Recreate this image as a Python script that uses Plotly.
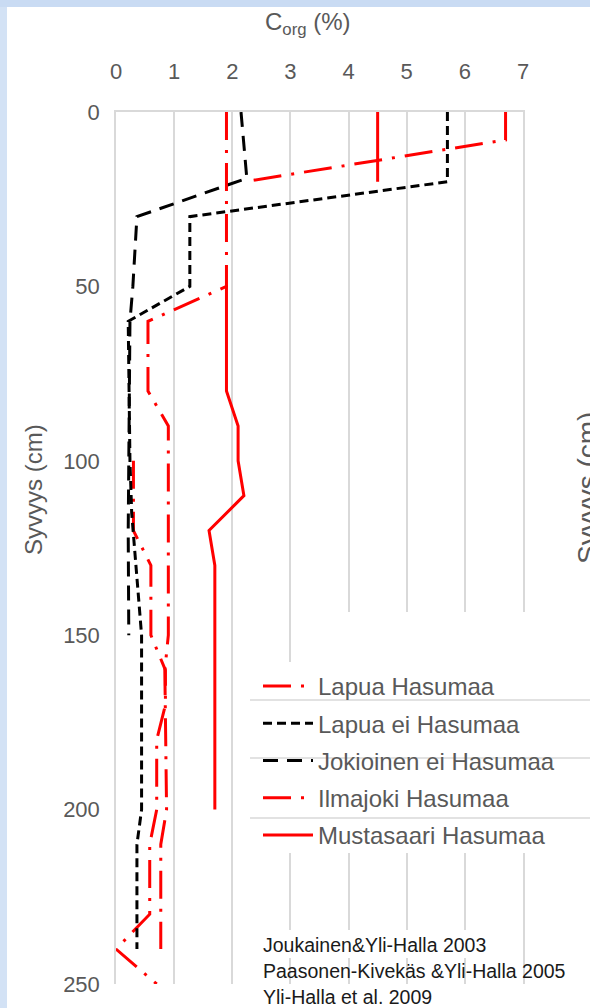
import plotly.graph_objects as go

# ---------------- data ----------------
lapua_has_c = [6.7, 6.7, 2.2, None, 0.3, 0.3, 0.6, 0.6, 0.85, 0.85, 0.7, 0.7, 0.58, 0.58, 0.0, 0.7]
lapua_has_d = [0, 8, 20, None, 100, 120, 130, 150, 160, 170, 180, 200, 210, 230, 240, 250]

lapua_ei_c = [5.7, 5.7, 1.27, 1.27, 0.21, 0.24, 0.27, 0.44, 0.44, 0.36, 0.36]
lapua_ei_d = [0, 20, 30, 50, 60, 100, 115, 150, 200, 210, 240]

jokioinen_c = [2.15, 2.25, 0.36, 0.29, 0.24, 0.21, 0.22]
jokioinen_d = [0, 19, 30, 50, 60, 120, 150]

ilmajoki_c = [1.9, 1.9, 0.55, 0.55, 0.9, 0.9, 0.84, 0.87, 0.77, 0.77]
ilmajoki_d = [0, 50, 60, 80, 90, 150, 160, 200, 210, 240]

mustasaari_c = [4.5, 4.5, None, 1.9, 1.9, 2.1, 2.1, 2.2, 1.6, 1.7, 1.7]
mustasaari_d = [0, 20, None, 50, 80, 90, 100, 110, 120, 130, 200]

x_ticks = [0, 1, 2, 3, 4, 5, 6, 7]
y_ticks = [0, 50, 100, 150, 200, 250]
sources = ["Joukainen&Yli-Halla 2003", "Paasonen-Kivekäs &Yli-Halla 2005", "Yli-Halla et al. 2009"]

# ---------------- layout geometry ----------------
W, H = 590, 1008
L, R, T, B = 116, 67, 112, 24
PW, PH = W - L - R, H - T - B


def fx(xp):
    return (xp - L) / PW


def fy(yp):
    return (H - B - yp) / PH


GREY_TXT = "#595959"
GRID = "#d9d9d9"
FONT = "Liberation Sans, Arial, sans-serif"

fig = go.Figure()

traces = [
    ("Lapua Hasumaa", lapua_has_c, lapua_has_d, "#ff0000", "28px,10px,3px,10px"),
    ("Lapua ei Hasumaa", lapua_ei_c, lapua_ei_d, "#000000", "9px,5px"),
    ("Jokioinen ei Hasumaa", jokioinen_c, jokioinen_d, "#000000", "15px,9px"),
    ("Ilmajoki Hasumaa", ilmajoki_c, ilmajoki_d, "#ff0000", "28px,10px,3px,10px"),
    ("Mustasaari Hasumaa", mustasaari_c, mustasaari_d, "#ff0000", "solid"),
]
for i, (name, xs, ys, col, dash) in enumerate(traces):
    fig.add_trace(go.Scatter(
        x=xs, y=ys, name=name, mode="lines", connectgaps=False,
        line=dict(color=col, width=3, dash=dash),
        legendgroup=f"g{i}",
    ))

shapes = []
# slide background strips
shapes.append(dict(type="rect", xref="paper", yref="paper", layer="above",
                   x0=fx(0), x1=fx(7), y0=fy(H), y1=fy(0),
                   fillcolor="#d3e2f5", line=dict(width=0)))
shapes.append(dict(type="rect", xref="paper", yref="paper", layer="above",
                   x0=fx(0), x1=fx(W), y0=fy(7), y1=fy(0),
                   fillcolor="#c9dbf3", line=dict(width=0)))
# white area covering grid behind the legend
shapes.append(dict(type="rect", xref="paper", yref="paper", layer="above",
                   x0=fx(330), x1=fx(W), y0=fy(662), y1=fy(612),
                   fillcolor="white", line=dict(width=0)))
shapes.append(dict(type="rect", xref="paper", yref="paper", layer="above",
                   x0=fx(250), x1=fx(W), y0=fy(853), y1=fy(662),
                   fillcolor="white", line=dict(width=0)))
# white box behind first source line
shapes.append(dict(type="rect", xref="paper", yref="paper", layer="above",
                   x0=fx(255), x1=fx(500), y0=fy(958), y1=fy(930),
                   fillcolor="white", line=dict(width=0)))
# grey rules crossing the legend area
for yp in [700, 758, 818]:
    shapes.append(dict(type="line", xref="paper", yref="paper", layer="above",
                       x0=fx(250), x1=fx(W), y0=fy(yp), y1=fy(yp),
                       line=dict(color=GRID, width=1.5)))

annotations = [
    dict(text="C<sub>org</sub> (%)", x=fx(308), y=fy(24), xref="paper", yref="paper",
         xanchor="center", yanchor="middle",
         showarrow=False, font=dict(size=24, color=GREY_TXT, family=FONT)),
    dict(text="Syvyys (cm)", x=fx(33), y=fy(490), xref="paper", yref="paper",
         xanchor="center", yanchor="middle",
         showarrow=False, textangle=-90, font=dict(size=24, color=GREY_TXT, family=FONT)),
    dict(text="Syvyys (cm)", x=fx(587), y=fy(488), xref="paper", yref="paper",
         xanchor="center", yanchor="middle",
         showarrow=False, textangle=-90, font=dict(size=28, color=GREY_TXT, family=FONT)),
]
for k, s in enumerate(sources):
    annotations.append(dict(text=s, x=fx(261), y=fy(945 + 26 * k), xref="paper", yref="paper",
                             xanchor="left", yanchor="middle", showarrow=False,
                             font=dict(size=19.5, color="#1a1a1a", family=FONT)))

fig.update_layout(
    width=W, height=H,
    margin=dict(l=L, r=R, t=T, b=B),
    paper_bgcolor="white", plot_bgcolor="white",
    font=dict(family=FONT, color=GREY_TXT),
    xaxis=dict(side="top", range=[0, 7], tickvals=x_ticks, showgrid=True, gridcolor=GRID,
               gridwidth=1.5, zeroline=False, showline=True, linecolor=GRID, linewidth=1.5,
               ticks="", ticklabelstandoff=22, tickfont=dict(size=22, color=GREY_TXT)),
    yaxis=dict(range=[250, 0], tickvals=y_ticks, showgrid=False, zeroline=False,
               showline=True, mirror=True, linecolor=GRID, linewidth=1.5, ticks="",
               ticklabelstandoff=10, tickfont=dict(size=22, color=GREY_TXT)),
    showlegend=True,
    legend=dict(x=fx(258), y=fy(664), xanchor="left", yanchor="top",
                bgcolor="rgba(0,0,0,0)", font=dict(size=24, color=GREY_TXT, family=FONT),
                tracegroupgap=3, itemwidth=50, traceorder="grouped"),
    shapes=shapes,
    annotations=annotations,
)

fig.write_html("out.html", config={"displayModeBar": False},
               post_script="document.body.style.margin='0';document.body.style.overflow='hidden';")
